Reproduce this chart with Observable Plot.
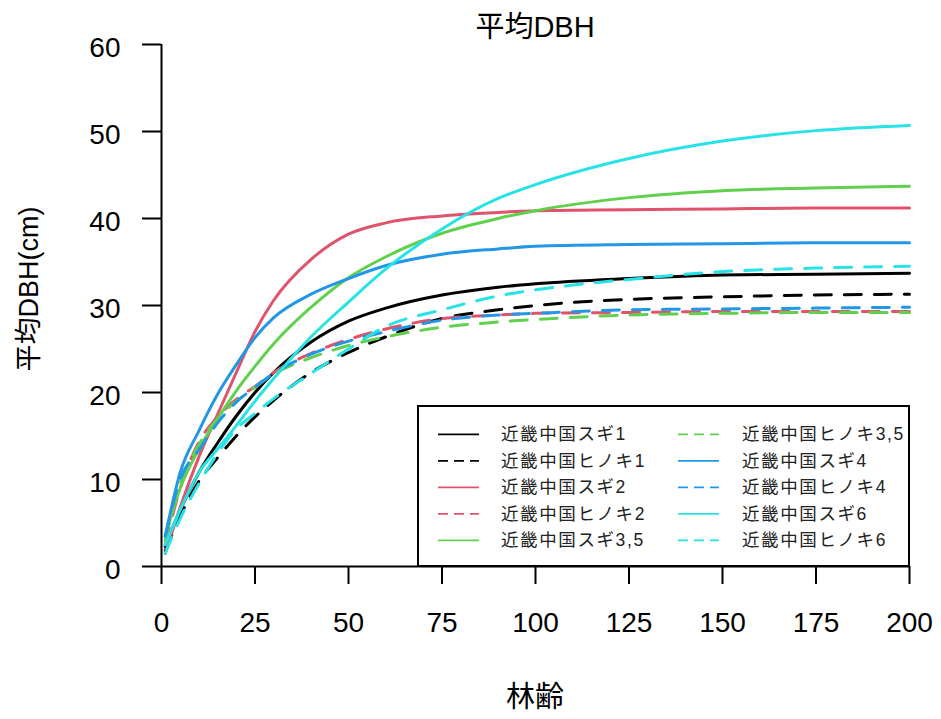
<!DOCTYPE html>
<html><head><meta charset="utf-8">
<script src="https://cdn.jsdelivr.net/npm/d3@7"></script>
<script src="https://cdn.jsdelivr.net/npm/@observablehq/plot@0.6"></script>
<style>body{margin:0;background:#fff}</style>
</head><body><div id="chart"></div>
<script>
// Stand age (林齢)
const ages = [1, 5, 10, 15, 20, 25, 30, 40, 50, 60, 75, 90, 100, 125, 150, 175, 200];
// Mean DBH (cm) per series
const sugi1    = [2.3, 6.5, 10.8, 14.2, 17.3, 20.0, 22.3, 25.8, 28.2, 29.7, 31.2, 32.1, 32.5, 33.1, 33.5, 33.6, 33.7];
const hinoki1  = [1.8, 5.8, 9.8, 12.5, 15.0, 17.2, 19.1, 22.3, 24.6, 26.4, 28.5, 29.5, 30.0, 30.7, 31.0, 31.2, 31.3];
const sugi2    = [1.5, 6.8, 12.6, 17.5, 22.3, 27.0, 30.6, 35.3, 38.2, 39.5, 40.3, 40.7, 40.9, 41.0, 41.1, 41.2, 41.2];
const hinoki2  = [2.5, 9.0, 14.3, 17.2, 19.2, 20.7, 22.3, 24.5, 26.1, 27.3, 28.5, 28.9, 29.1, 29.2, 29.3, 29.3, 29.3];
const sugi35   = [3.5, 9.0, 13.5, 17.0, 20.2, 23.0, 25.6, 29.8, 33.2, 35.6, 38.3, 40.0, 40.9, 42.4, 43.2, 43.5, 43.7];
const hinoki35 = [3.0, 9.5, 14.0, 17.0, 19.0, 20.6, 22.1, 24.0, 25.4, 26.4, 27.5, 28.1, 28.4, 28.9, 29.1, 29.2, 29.2];
const sugi4    = [3.5, 10.8, 15.6, 19.8, 23.2, 26.3, 28.6, 31.3, 33.1, 34.6, 35.9, 36.5, 36.8, 37.0, 37.1, 37.2, 37.2];
const hinoki4  = [3.5, 10.0, 13.4, 16.5, 18.9, 20.6, 22.2, 24.4, 25.9, 27.0, 28.3, 28.9, 29.1, 29.5, 29.6, 29.7, 29.8];
const sugi6    = [2.5, 6.5, 10.8, 13.5, 16.2, 19.0, 21.6, 26.4, 30.4, 34.2, 38.8, 42.3, 43.9, 46.9, 48.9, 50.1, 50.7];
const hinoki6  = [1.5, 5.5, 9.5, 13.0, 15.8, 17.6, 19.3, 22.2, 25.0, 27.6, 29.5, 31.1, 31.8, 33.0, 33.9, 34.3, 34.5];

const seriesNames = ["近畿中国スギ1", "近畿中国ヒノキ1", "近畿中国スギ2", "近畿中国ヒノキ2", "近畿中国スギ3,5",
                     "近畿中国ヒノキ3,5", "近畿中国スギ4", "近畿中国ヒノキ4", "近畿中国スギ6", "近畿中国ヒノキ6"];
const seriesValues = [sugi1, hinoki1, sugi2, hinoki2, sugi35, hinoki35, sugi4, hinoki4, sugi6, hinoki6];
const seriesColors = ["#000000", "#000000", "#DF536B", "#DF536B", "#61D04F", "#61D04F", "#2297E6", "#2297E6", "#28E2E5", "#28E2E5"];
const seriesDashed = [false, true, false, true, false, true, false, true, false, true];

const xTicks = [0, 25, 50, 75, 100, 125, 150, 175, 200];
const yTicks = [0, 10, 20, 30, 40, 50, 60];
const titleText = "平均DBH";
const xLabel = "林齢";
const yLabel = "平均DBH(cm)";

const rows = seriesNames.flatMap((name, i) => ages.map((a, j) => ({series: name, idx: i, age: a, dbh: seriesValues[i][j]})));

const font = '"Liberation Sans", Arial, "Noto Sans CJK JP", sans-serif';

const plot = Plot.plot({
  width: 941, height: 719,
  marginLeft: 161, marginRight: 32, marginTop: 44, marginBottom: 153,
  style: {fontFamily: font, background: "#fff", color: "#000", overflow: "visible"},
  x: {domain: [0, 200]},
  y: {domain: [0, 60]},
  marks: [
    ...seriesNames.map((name, i) => Plot.line(rows.filter(d => d.idx === i), {
      x: "age", y: "dbh", stroke: seriesColors[i], strokeWidth: 3,
      strokeDasharray: seriesDashed[i] ? "17,13" : null, curve: "monotone-x"
    })),
    Plot.ruleY([0], {stroke: "#000", strokeWidth: 2}),
    Plot.ruleX([0], {stroke: "#000", strokeWidth: 2}),
    Plot.axisX({ticks: xTicks, tickSize: 18, tickPadding: 28, fontSize: 28, label: null, strokeWidth: 2, tickFormat: d => String(d)}),
    Plot.axisY({ticks: yTicks, tickSize: 19, fontSize: 1, label: null, strokeWidth: 2, tickFormat: () => ""}),
    Plot.text(yTicks, {x: 0, y: d => d, text: d => String(d), textAnchor: "end", dx: -41, dy: 4, fontSize: 28})
  ]
});

const svg = d3.select(plot);
// titles (layout)
svg.append("text").attr("x", 535).attr("y", 27).attr("dy", "0.35em")
  .attr("text-anchor", "middle").attr("font-size", 29).attr("font-family", font).attr("fill", "#000").text(titleText);
svg.append("text").attr("x", 535).attr("y", 697).attr("dy", "0.35em")
  .attr("text-anchor", "middle").attr("font-size", 29).attr("font-family", font).attr("fill", "#000").text(xLabel);
svg.append("text").attr("transform", "translate(29,289) rotate(-90)").attr("dy", "0.35em")
  .attr("text-anchor", "middle").attr("font-size", 27).attr("font-family", font).attr("fill", "#000").text(yLabel);

// legend (layout only)
const lg = svg.append("g");
lg.append("rect").attr("x", 418).attr("y", 406).attr("width", 491).attr("height", 160)
  .attr("fill", "#fff").attr("stroke", "#000").attr("stroke-width", 2);
seriesNames.forEach((name, i) => {
  const col = i < 5 ? 0 : 1;
  const row = i % 5;
  const y = 434.3 + row * 26.5;
  const lx = col ? 678 : 438;
  const tx = col ? 742 : 501;
  const ln = lg.append("line").attr("x1", lx).attr("x2", lx + 41).attr("y1", y).attr("y2", y)
    .attr("stroke", seriesColors[i]).attr("stroke-width", 1.8);
  if (seriesDashed[i]) ln.attr("stroke-dasharray", "10,6");
  lg.append("text").attr("x", tx).attr("y", y).attr("dy", "0.35em")
    .attr("text-anchor", "start")
    .attr("font-size", 17.5).attr("letter-spacing", "1.6px").attr("fill", "#222")
    .attr("font-family", font).text(name);
});

document.getElementById("chart").appendChild(plot);
</script>
</body></html>
